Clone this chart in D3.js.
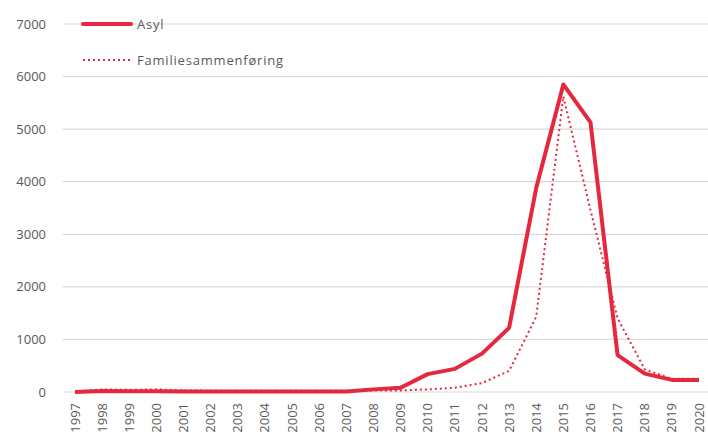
<!DOCTYPE html>
<html><head><meta charset="utf-8">
<script src="https://cdn.jsdelivr.net/npm/d3@7"></script>
<style>body{margin:0;background:#fff}svg{display:block}</style>
</head><body><svg id="c" width="708" height="439"></svg>
<script>
const years = ["1997","1998","1999","2000","2001","2002","2003","2004","2005","2006","2007","2008","2009","2010","2011","2012","2013","2014","2015","2016","2017","2018","2019","2020"];
const asyl = [0,20,15,15,10,10,10,10,10,10,10,50,80,340,440,730,1220,3880,5850,5130,700,350,230,230];
const familie = [10,50,40,50,30,25,25,25,25,25,25,30,30,50,80,170,400,1430,5620,3460,1400,430,250,250];
const yTicks = [0,1000,2000,3000,4000,5000,6000,7000];
const seriesNames = ["Asyl","Familiesammenføring"];

const svg = d3.select("#c");
const font = "'Open Sans', 'Liberation Sans', sans-serif";
const col = "#E5283F";
const x = d3.scalePoint().domain(years).range([75, 699]);
const y = d3.scaleLinear().domain([0,7000]).range([392, 24]);

svg.append("g").selectAll("line").data(yTicks).join("line")
  .attr("x1", 63).attr("x2", 708).attr("y1", d=>y(d)).attr("y2", d=>y(d))
  .attr("stroke", "#d9d9d9").attr("stroke-width", 1.2);

svg.append("g").selectAll("text").data(yTicks).join("text")
  .attr("x", 46).attr("y", d=>y(d)).attr("dy", "0.35em").attr("text-anchor","end")
  .attr("font-family", font).attr("font-size", 13).attr("fill", "#595959").text(d=>d);

svg.append("g").selectAll("text").data(years).join("text")
  .attr("transform", d=>`translate(${x(d)},403) rotate(-90)`)
  .attr("dy","0.35em").attr("text-anchor","end")
  .attr("font-family", font).attr("font-size", 13).attr("fill", "#595959").text(d=>d);

const line = d3.line().x((d,i)=>x(years[i])).y(d=>y(d));
svg.append("path").datum(familie).attr("d", line).attr("fill","none")
  .attr("stroke", col).attr("stroke-width", 2).attr("stroke-dasharray","2,3");
svg.append("path").datum(asyl).attr("d", line).attr("fill","none")
  .attr("stroke", col).attr("stroke-width", 4).attr("stroke-linejoin","round");

const lg = svg.append("g");
lg.append("line").attr("x1",83).attr("x2",131).attr("y1",24).attr("y2",24)
  .attr("stroke",col).attr("stroke-width",4).attr("stroke-linecap","round");
lg.append("line").attr("x1",83).attr("x2",131).attr("y1",60).attr("y2",60)
  .attr("stroke",col).attr("stroke-width",2).attr("stroke-dasharray","2,3");
lg.selectAll("text").data(seriesNames).join("text")
  .attr("x",137).attr("y",(d,i)=>i?60:24).attr("dy","0.35em")
  .attr("font-family", font).attr("font-size", 13).attr("letter-spacing", 0.8)
  .attr("fill","#595959").text(d=>d);
</script></body></html>
